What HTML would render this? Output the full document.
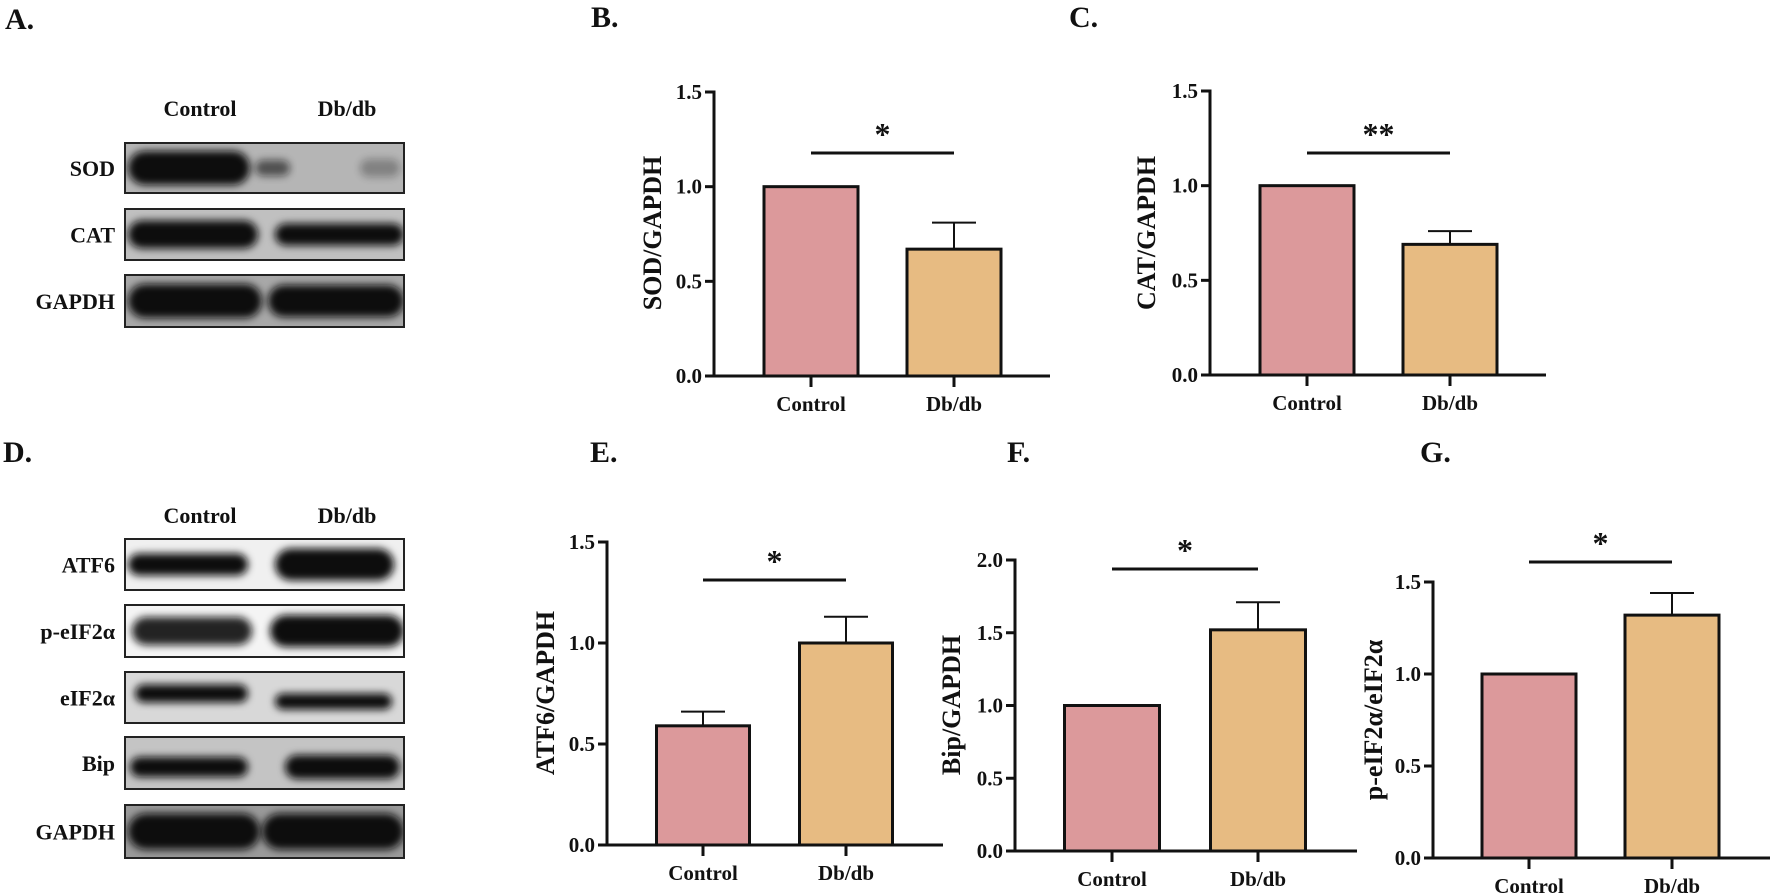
<!DOCTYPE html>
<html><head><meta charset="utf-8"><style>
html,body{margin:0;padding:0;background:#fff}
svg{display:block}
text{font-family:"Liberation Serif",serif;font-weight:bold;fill:#111}
</style></head><body>
<svg id="fig" width="1772" height="895" viewBox="0 0 1772 895" xmlns="http://www.w3.org/2000/svg">
<defs>
<filter id="blur" x="-20%" y="-50%" width="140%" height="200%"><feGaussianBlur stdDeviation="4"/></filter>
</defs>
<g id="blotsA"></g>
<g id="blotsD"></g>
<g id="charts"></g>
<text x="5" y="29" font-size="30">A.</text>
<text x="591" y="27" font-size="30">B.</text>
<text x="1069" y="27" font-size="30">C.</text>
<text x="3" y="462" font-size="30">D.</text>
<text x="590" y="462" font-size="30">E.</text>
<text x="1007" y="462" font-size="30">F.</text>
<text x="1420" y="462" font-size="30">G.</text>
</svg>
<script>
const categories = ["Control", "Db/db"];
const sodValues = [1.0, 0.67];
const sodErrors = [0, 0.14];
const catValues = [1.0, 0.69];
const catErrors = [0, 0.07];
const atf6Values = [0.59, 1.0];
const atf6Errors = [0.07, 0.13];
const bipValues = [1.0, 1.52];
const bipErrors = [0, 0.19];
const peifValues = [1.0, 1.32];
const peifErrors = [0, 0.12];
const ticks15 = [0, 0.5, 1.0, 1.5];
const ticks20 = [0, 0.5, 1.0, 1.5, 2.0];
const tickLabels15 = ["0.0", "0.5", "1.0", "1.5"];
const tickLabels20 = ["0.0", "0.5", "1.0", "1.5", "2.0"];

const NS = "http://www.w3.org/2000/svg";
function mk(tag, attrs, parent){
  const e = document.createElementNS(NS, tag);
  for (const k in attrs) e.setAttribute(k, attrs[k]);
  parent.appendChild(e);
  return e;
}
const charts = document.getElementById('charts');
const colors = ["#dc999b", "#e7bb82"];

function drawChart(id, cfg, values, errors, ticks, tickLabels, title, sig){
  const g = mk('g', {}, charts);
  
  
  const ys = v => cfg.y0 - (v / cfg.max) * (cfg.y0 - cfg.yTop);
  const xs = i => cfg.cx0 + i * cfg.step;
  const ya = mk('line', {x1: cfg.ax, y1: ys(cfg.max) - 1.5, x2: cfg.ax, y2: cfg.y0 + 1.5, stroke: '#111', 'stroke-width': 3}, g);
  
  
  ticks.forEach((t, i) => {
    const tk = mk('line', {x1: cfg.ax - 9, y1: ys(t), x2: cfg.ax, y2: ys(t), stroke: '#111', 'stroke-width': 3}, g);
    
    
    const tl = mk('text', {x: cfg.ax - 12, y: ys(t) + 7, 'font-size': 21, 'text-anchor': 'end'}, g);
    tl.textContent = tickLabels[i];
    
    
  });
  values.forEach((v, i) => {
    const cx = xs(i);
    const b = mk('rect', {x: cx - cfg.bw / 2, y: ys(v), width: cfg.bw, height: cfg.y0 - ys(v), fill: colors[i], stroke: '#111', 'stroke-width': 3}, g);
    
    
    if (errors[i] > 0) {
      const et = ys(v + errors[i]);
      const el = mk('path', {d: `M${cx},${ys(v)}V${et}M${cx - 22},${et}H${cx + 22}`, stroke: '#111', 'stroke-width': 2, fill: 'none'}, g);
      
      
    }
    const xt = mk('line', {x1: cx, y1: cfg.y0, x2: cx, y2: cfg.y0 + 11, stroke: '#111', 'stroke-width': 3}, g);
    
    
    const xl = mk('text', {x: cx, y: cfg.y0 + 35, 'font-size': 21, 'text-anchor': 'middle'}, g);
    xl.textContent = categories[i];
    
    
  });
  const xa = mk('line', {x1: cfg.ax - 1.5, y1: cfg.y0, x2: cfg.axEnd, y2: cfg.y0, stroke: '#111', 'stroke-width': 3}, g);
  
  
  const tt = mk('text', {x: 0, y: 0, 'font-size': 26, 'text-anchor': 'middle', transform: `translate(${cfg.tx + 9},${cfg.ty}) rotate(-90)`}, g);
  tt.textContent = title;
  
  
  const sl = mk('line', {x1: xs(0), y1: cfg.sigY, x2: xs(1), y2: cfg.sigY, stroke: '#111', 'stroke-width': 3}, g);
  
  
  const st = mk('text', {x: (xs(0) + xs(1)) / 2, y: cfg.sigY - 8, 'font-size': 32, 'text-anchor': 'middle'}, g);
  st.textContent = sig;
  
  
}

drawChart('b', {ax: 714, y0: 376, yTop: 92, max: 1.5, cx0: 811, step: 143, bw: 94, axEnd: 1050, sigY: 153, tx: 652, ty: 233}, sodValues, sodErrors, ticks15, tickLabels15, 'SOD/GAPDH', '*');
drawChart('c', {ax: 1210, y0: 375, yTop: 91, max: 1.5, cx0: 1307, step: 143, bw: 94, axEnd: 1546, sigY: 153, tx: 1146, ty: 233}, catValues, catErrors, ticks15, tickLabels15, 'CAT/GAPDH', '**');
drawChart('e', {ax: 607, y0: 845, yTop: 542, max: 1.5, cx0: 703, step: 143, bw: 93, axEnd: 943, sigY: 580, tx: 545, ty: 693}, atf6Values, atf6Errors, ticks15, tickLabels15, 'ATF6/GAPDH', '*');
drawChart('f', {ax: 1015, y0: 851, yTop: 560, max: 2.0, cx0: 1112, step: 146, bw: 95, axEnd: 1357, sigY: 569, tx: 951, ty: 705}, bipValues, bipErrors, ticks20, tickLabels20, 'Bip/GAPDH', '*');
drawChart('g', {ax: 1433, y0: 858, yTop: 582, max: 1.5, cx0: 1529, step: 143, bw: 94, axEnd: 1770, sigY: 562, tx: 1373, ty: 720}, peifValues, peifErrors, ticks15, tickLabels15, 'p-eIF2\u03b1/eIF2\u03b1', '*');

function blotRow(parent, name, y1, y2, bands, bg){
  const g = mk('g', {}, parent);
  
  
  const id = 'clip' + name.replace(/[^a-z0-9]/gi, '') + y1;
  const cp = mk('clipPath', {id: id}, g);
  mk('rect', {x: 125, y: y1, width: 279, height: y2 - y1}, cp);
  const inner = mk('g', {'clip-path': `url(#${id})`}, g);
  mk('rect', {x: 125, y: y1, width: 279, height: y2 - y1, fill: bg}, inner);
  bands.forEach(b => {
    mk('rect', {x: b[0], y: (y1 + y2) / 2 - b[2] / 2 + (b[4] || 0), width: b[1] - b[0], height: b[2], rx: b[2] / 2, fill: '#111', opacity: b[3], filter: 'url(#blur)'}, inner);
  });
  mk('rect', {x: 125, y: y1, width: 279, height: y2 - y1, fill: 'none', stroke: '#222', 'stroke-width': 2}, g);
  const t = mk('text', {x: 115, y: (y1 + y2) / 2 + 8, 'font-size': 22, 'text-anchor': 'end'}, g);
  t.textContent = name;
}
const bA = document.getElementById('blotsA');
const tc = mk('text', {x: 200, y: 116, 'font-size': 22, 'text-anchor': 'middle'}, bA);
tc.textContent = 'Control';
const td = mk('text', {x: 347, y: 116, 'font-size': 22, 'text-anchor': 'middle'}, bA);
td.textContent = 'Db/db';
blotRow(bA, 'SOD', 143, 193, [[128, 250, 34, 1], [255, 290, 16, 0.6], [360, 400, 18, 0.3]], '#b5b5b5');
blotRow(bA, 'CAT', 209, 260, [[128, 258, 28, 1], [275, 404, 22, 1]], '#c0c0c0');
blotRow(bA, 'GAPDH', 275, 327, [[128, 262, 34, 1], [268, 404, 32, 1]], '#a8a8a8');

const bD = document.getElementById('blotsD');
const tc2 = mk('text', {x: 200, y: 523, 'font-size': 22, 'text-anchor': 'middle'}, bD);
tc2.textContent = 'Control';
const td2 = mk('text', {x: 347, y: 523, 'font-size': 22, 'text-anchor': 'middle'}, bD);
td2.textContent = 'Db/db';
blotRow(bD, 'ATF6', 539, 590, [[128, 248, 22, 1], [275, 394, 32, 1]], '#f0f0f0');
blotRow(bD, 'p-eIF2\u03b1', 605, 657, [[132, 252, 28, 0.9], [270, 404, 32, 1]], '#f4f4f4');
blotRow(bD, 'eIF2\u03b1', 672, 723, [[135, 248, 18, 1, -4], [275, 392, 16, 1, 4]], '#d8d8d8');
blotRow(bD, 'Bip', 737, 789, [[130, 248, 20, 1, 4], [285, 400, 24, 1, 4]], '#c4c4c4');
blotRow(bD, 'GAPDH', 805, 858, [[128, 260, 36, 1], [262, 404, 36, 1]], '#9a9a9a');
</script>
</body></html>
